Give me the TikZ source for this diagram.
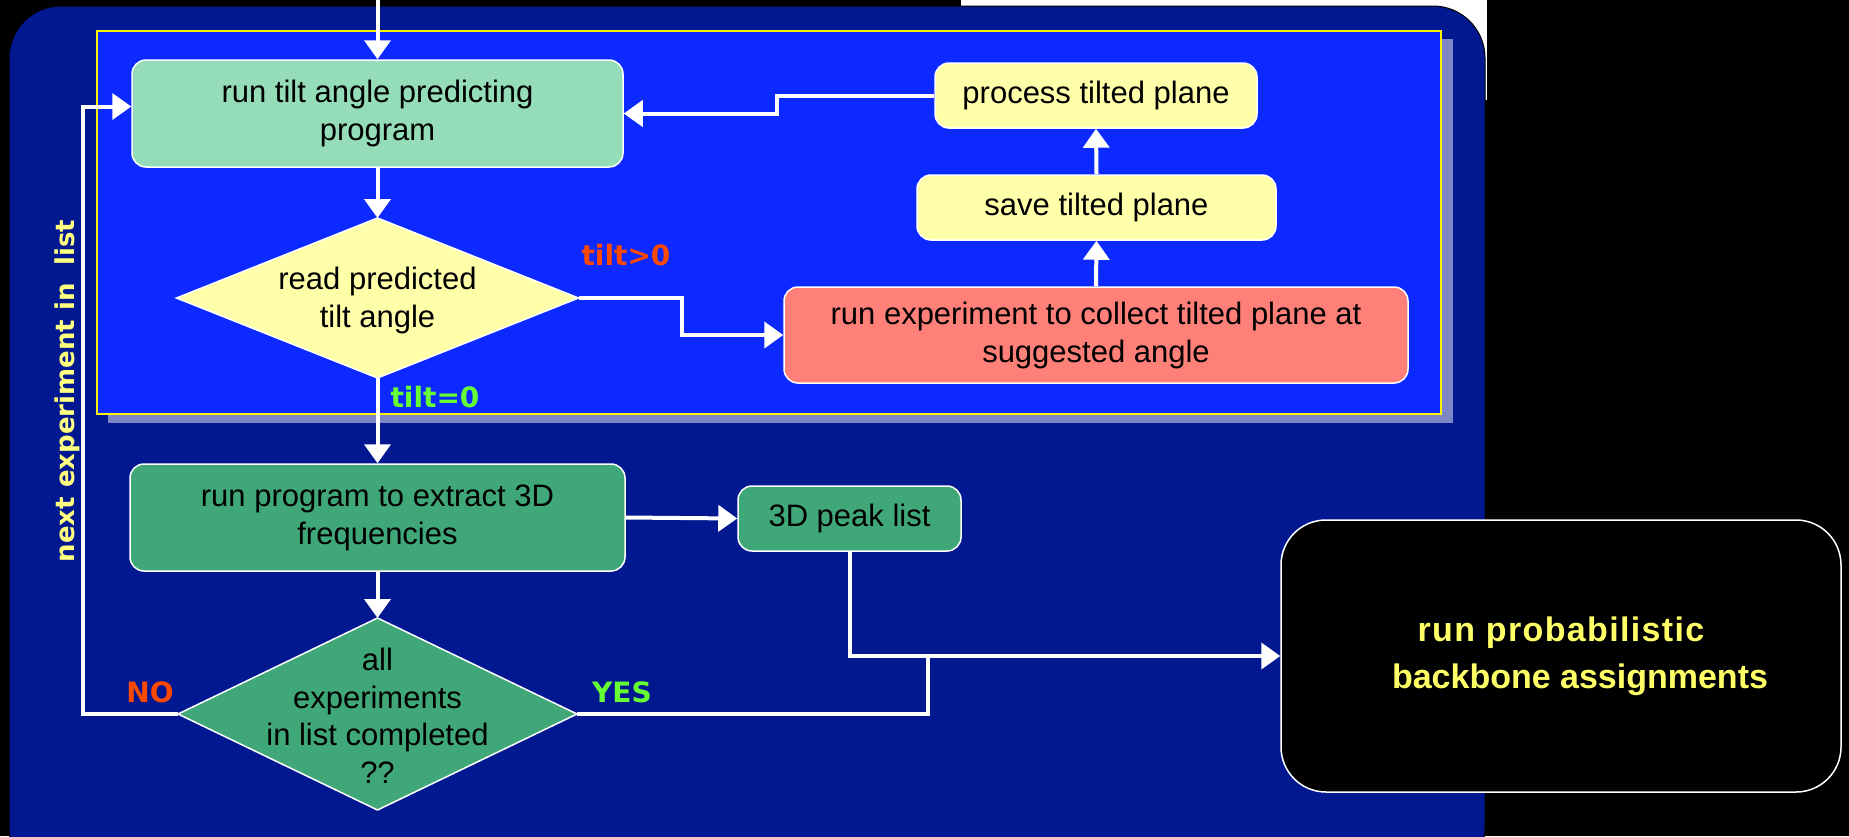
\documentclass[tikz,border=0pt]{standalone}
\usepackage{fontspec}
\setmainfont{Liberation Sans}
\newfontfamily\lblfont{DejaVu Sans}
\usetikzlibrary{arrows.meta,shapes.geometric}
\definecolor{darkbg}{RGB}{2,24,145}
\definecolor{brightbg}{RGB}{12,42,255}
\definecolor{shadowc}{RGB}{125,135,200}
\definecolor{mint}{RGB}{148,221,184}
\definecolor{paleyellow}{RGB}{255,255,170}
\definecolor{salmon}{RGB}{255,128,120}
\definecolor{dgreen}{RGB}{64,168,120}
\definecolor{orangered}{RGB}{255,72,0}
\definecolor{lgreen}{RGB}{102,255,51}
\definecolor{labelyellow}{RGB}{255,255,128}
\definecolor{finalyellow}{RGB}{255,255,102}
\begin{document}
\begin{tikzpicture}[x=1pt,y=-1pt,
  box/.style={rectangle, rounded corners=14pt, draw=white, line width=1.5pt, align=center, inner sep=0pt, font=\fontsize{31}{38}\selectfont, text=black},
  dia/.style={diamond, draw=white, line width=1.5pt, inner sep=0pt, outer sep=0pt},
  diatext/.style={align=center, inner sep=0pt, font=\fontsize{31}{38}\selectfont, text=black},
  arr/.style={draw=white, line width=4pt, -{Triangle[width=26pt,length=19pt]}},
  conn/.style={draw=white, line width=4pt},
  lbl/.style={font=\lblfont\bfseries\fontsize{28}{34}\selectfont, inner sep=0pt}
]
\useasboundingbox (0,0) rectangle (1849,836);
\begin{scope}
\clip (0,0) rectangle (1849,836);
\fill[black] (0,0) rectangle (1849,836);
\fill[white] (961,0) rectangle (1487,100);
\filldraw[fill=darkbg, draw=black, line width=1pt, rounded corners=52pt] (9,6) rectangle (1485,880);
\fill[shadowc] (108,39) rectangle (1453,423);
\filldraw[fill=brightbg, draw=yellow, line width=2pt] (97,31) rectangle (1441,414);
\end{scope}

% nodes
\node[box, fill=mint, minimum width=491pt, minimum height=107pt] (b1) at (377.5,113.5) {run tilt angle predicting\\program};
\node[dia, fill=paleyellow, minimum width=402pt, minimum height=160pt] (d1) at (377.5,298) {};
\node[diatext] (d1t) at (377.5,300) {read predicted\\tilt angle};
\node[box, fill=paleyellow, minimum width=322pt, minimum height=65pt] (bp) at (1096,95.5) {process tilted plane};
\node[box, fill=paleyellow, minimum width=359pt, minimum height=65pt] (bs) at (1096.5,207.5) {save tilted plane};
\node[box, fill=salmon, minimum width=624pt, minimum height=96pt] (br) at (1096,335) {run experiment to collect tilted plane at\\suggested angle};
\node[box, fill=dgreen, minimum width=495pt, minimum height=107pt] (b6) at (377.5,517.5) {run program to extract 3D\\frequencies};
\node[box, fill=dgreen, minimum width=223pt, minimum height=65pt] (bl) at (849.5,518.5) {3D peak list};
\node[dia, fill=dgreen, minimum width=399pt, minimum height=192pt] (d2) at (377.5,714) {};
\node[diatext, font=\fontsize{31}{37.5}\selectfont] (d2t) at (377.5,716) {all\\experiments\\in list completed\\??};
\node[box, fill=black, rounded corners=45pt, minimum width=560pt, minimum height=272pt, text=finalyellow, font=\bfseries\fontsize{34}{47}\selectfont] (bf) at (1561,656) {{\addfontfeature{LetterSpace=4}run probabilistic}\\\hspace*{38pt}backbone assignments};

% labels
\node[lbl, text=orangered] (lt) at (626,255) {tilt>0};
\node[lbl, text=lgreen] (lz) at (435,397) {tilt=0};
\node[lbl, text=orangered] (lno) at (150,692) {NO};
\node[lbl, text=lgreen] (lyes) at (622,692) {YES};
\node[lbl, text=labelyellow, rotate=90, font=\lblfont\bfseries\fontsize{26}{32}\selectfont] (lnext) at (67,391) {next experiment in\ \ list};

% connectors
\coordinate (top) at (377.5,0);
\coordinate (j) at (928,654);
\draw[arr] (top) -- (b1.north);
\draw[arr] (b1.south) -- (d1.north);
\draw[arr] (d1.east) -- ++(103,0) |- (br.west);
\draw[arr] (br.north) -- (bs.south);
\draw[arr] (bs.north) -- (bp.south);
\draw[arr] (bp.west) -- ++(-157,0) |- (b1.east);
\draw[arr] (d1.south) -- (b6.north);
\draw[arr] (b6.east) -- (bl.west);
\draw[arr] (b6.south) -- (d2.north);
\draw[arr] (bl.south) |- (bf.west);
\draw[conn] (d2.east) -| (j);
\draw[arr] (d2.west) -- ++(-95,0) |- ([yshift=7pt]b1.west);
\end{tikzpicture}
\end{document}
